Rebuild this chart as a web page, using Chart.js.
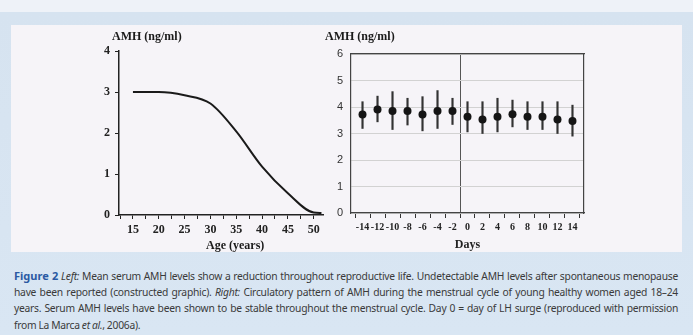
<!DOCTYPE html>
<html>
<head>
<meta charset="utf-8">
<script src="https://cdn.jsdelivr.net/npm/chart.js@4"></script>
<style>
  body { margin: 0; width: 693px; height: 335px; overflow: hidden; position: relative;
         background: linear-gradient(#eef2f8 0, #eef2f8 12px, #d6e3f0 12px, #d9e6f3 100%); }
  #panel { position: absolute; left: 11px; top: 25px; width: 671px; height: 227px; background: #f6f4f8; }
  canvas { position: absolute; }
  .lbl { position: absolute; font: bold 12px "Liberation Serif", serif; color: #1a1a1a; white-space: nowrap; }
  #caption { position: absolute; left: 14px; top: 268px; width: 664px; font: 10.3px/16.2px "Noto Sans", sans-serif;
             letter-spacing: -0.25px; word-spacing: -0.4px; color: #3a3a3a; }
  #caption span { display: block; white-space: nowrap; text-align: justify; text-align-last: justify; }
  #caption span.last { text-align-last: left; }
  #caption b { color: #2b5aa3; font-weight: bold; letter-spacing: 0; font-size: 11px; }
</style>
</head>
<body>
<div id="panel"></div>
<canvas id="left" width="250" height="235" style="left:85px; top:25px"></canvas>
<canvas id="right" width="300" height="235" style="left:305px; top:25px"></canvas>
<div class="lbl" style="left:112px; top:29px">AMH (ng/ml)</div>
<div class="lbl" style="left:325px; top:29px">AMH (ng/ml)</div>
<div class="lbl" style="left:206px; top:238px">Age (years)</div>
<div id="caption">
<span><b>Figure 2</b> <i>Left:</i> Mean serum AMH levels show a reduction throughout reproductive life. Undetectable AMH levels after spontaneous menopause</span>
<span>have been reported (constructed graphic). <i>Right:</i> Circulatory pattern of AMH during the menstrual cycle of young healthy women aged 18&ndash;24</span>
<span>years. Serum AMH levels have been shown to be stable throughout the menstrual cycle. Day 0 = day of LH surge (reproduced with permission</span>
<span class="last">from La Marca <i>et al.</i>, 2006a).</span>
</div>
<script>
// left panel: AMH by age (constructed curve)
const ages = [15, 20, 25, 30, 35, 40, 45, 50, 51.5]
const amhByAge = [3.0, 3.0, 2.92, 2.72, 2.04, 1.18, 0.53, 0.06, 0.05]

// right panel: AMH across the cycle
const days = [-14, -12, -10, -8, -6, -4, -2, 0, 2, 4, 6, 8, 10, 12, 14]
const amhMean = [3.72, 3.91, 3.85, 3.85, 3.72, 3.85, 3.85, 3.63, 3.53, 3.63, 3.73, 3.63, 3.63, 3.53, 3.47]
const amhLow = [3.19, 3.44, 3.15, 3.32, 3.10, 3.19, 3.34, 3.06, 3.00, 3.06, 3.25, 3.15, 3.15, 3.00, 2.90]
const amhHigh = [4.20, 4.41, 4.58, 4.33, 4.39, 4.62, 4.33, 4.20, 4.20, 4.33, 4.26, 4.20, 4.20, 4.20, 4.07]

const serifBold = { family: 'Liberation Serif', weight: 'bold', size: 12 }
const ink = '#222'

new Chart(document.getElementById('left'), {
  type: 'line',
  data: {
    datasets: [{
      data: ages.map((a, i) => ({ x: a, y: amhByAge[i] })),
      borderColor: '#1a1a1a',
      borderWidth: 2,
      pointRadius: 0,
      cubicInterpolationMode: 'monotone'
    }]
  },
  options: {
    responsive: false,
    animation: false,
    layout: { padding: { top: 26, right: 12, left: 0, bottom: 0 } },
    plugins: { legend: { display: false }, tooltip: { enabled: false } },
    scales: {
      x: {
        type: 'linear', min: 12.3, max: 51.8,
        afterFit: s => { s.height = 45 },
        grid: { drawOnChartArea: false, tickLength: 4, color: ink },
        border: { color: ink, width: 1.5 },
        ticks: {
          stepSize: 2.5, includeBounds: false, autoSkip: false, maxRotation: 0,
          color: ink, font: serifBold, padding: 4,
          callback: v => (v % 5 === 0 ? v : '')
        }
      },
      y: {
        min: 0, max: 4,
        afterFit: s => { s.width = 34 },
        grid: { drawOnChartArea: false, tickLength: 4, color: ink },
        border: { color: ink, width: 1.5 },
        ticks: { stepSize: 1, color: ink, font: serifBold, padding: 5 }
      }
    }
  }
})

new Chart(document.getElementById('right'), {
  type: 'scatter',
  data: {
    datasets: [{
      type: 'scatter',
      data: days.map((d, i) => ({ x: d, y: amhMean[i] })),
      backgroundColor: '#151515',
      borderWidth: 0,
      pointRadius: 4
    }, {
      type: 'bar',
      data: days.map((d, i) => ({ x: d, y: [amhLow[i], amhHigh[i]] })),
      backgroundColor: '#333',
      barThickness: 1.5
    }]
  },
  options: {
    responsive: false,
    animation: false,
    layout: { padding: { top: 29, right: 21, left: 0, bottom: 0 } },
    plugins: { legend: { display: false }, tooltip: { enabled: false } },
    scales: {
      x: {
        type: 'linear', min: -14.5, max: 14.5,
        afterFit: s => { s.height = 47 },
        grid: {
          color: c => (c.tick && c.tick.value === 0 ? '#555' : 'rgba(0,0,0,0)'),
          tickColor: '#333', tickLength: 5
        },
        border: { color: '#444', width: 1.2 },
        ticks: {
          stepSize: 2, includeBounds: false, autoSkip: false, maxRotation: 0,
          color: ink, font: { family: 'Liberation Serif', weight: 'bold', size: 10 }, padding: 3
        },
        title: { display: true, text: 'Days', color: ink, font: serifBold, padding: { top: 0, bottom: 8 } }
      },
      x2: {
        type: 'linear', position: 'top', min: -14.5, max: 14.5,
        afterFit: s => { s.height = 0 },
        grid: { display: false },
        border: { color: '#444', width: 1.2 },
        ticks: { display: false }
      },
      y: {
        min: 0, max: 6,
        afterFit: s => { s.width = 46 },
        grid: { color: '#d2d2d2', drawTicks: false },
        border: { color: '#444', width: 1.2 },
        ticks: { stepSize: 1, color: '#333', font: { family: 'Liberation Sans', size: 11 }, padding: 8 }
      },
      y2: {
        position: 'right', min: 0, max: 6,
        afterFit: s => { s.width = 0 },
        grid: { display: false },
        border: { color: '#444', width: 1.2 },
        ticks: { display: false }
      }
    }
  }
})
</script>
</body>
</html>
